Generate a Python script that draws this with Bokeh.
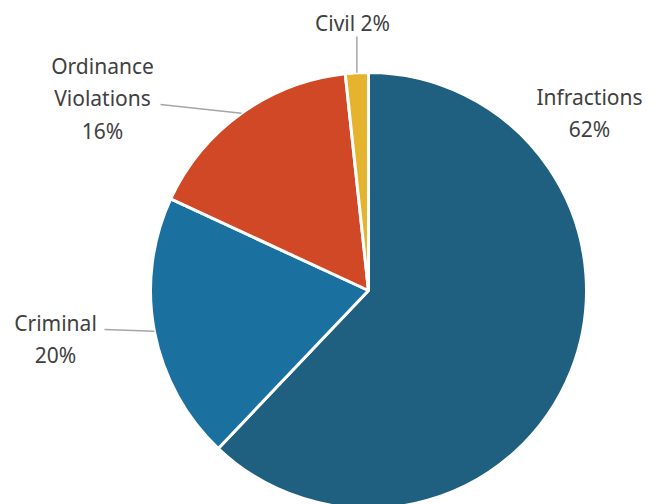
import math
from bokeh.plotting import figure
from bokeh.models import Range1d, ColumnDataSource
from bokeh.core.properties import value
from bokeh.embed import file_html
from bokeh.resources import INLINE

# Data
categories = ["Infractions", "Criminal", "Ordinance Violations", "Civil"]
shares = [62.1, 19.8, 16.4, 1.7]
colors = ["#1F5F80", "#1A71A0", "#D04826", "#E4B42F"]

W, H = 662, 504
p = figure(width=W, height=H, output_backend="svg", toolbar_location=None,
           x_range=Range1d(0, W), y_range=Range1d(0, H), min_border=0,
           outline_line_color=None, background_fill_color="white",
           border_fill_color="white")
p.axis.visible = False
p.grid.visible = False

cx, cy, r = 368, H - 290, 218
total = sum(shares)
starts, ends, mids = [], [], []
cum = 0.0
for s in shares:
    a0 = math.pi / 2 - 2 * math.pi * cum / total
    cum += s
    a1 = math.pi / 2 - 2 * math.pi * cum / total
    starts.append(a1)
    ends.append(a0)
    mids.append((a0 + a1) / 2)

src = ColumnDataSource(dict(start=starts, end=ends, color=colors, cat=categories))
p.wedge(x=cx, y=cy, radius=r, start_angle="start", end_angle="end",
        direction="anticlock", fill_color="color", line_color="white",
        line_width=3, source=src)

def edge(i):
    return cx + r * math.cos(mids[i]), cy + r * math.sin(mids[i])

pct = [f"{round(s)}%" for s in shares]
FONT = value("Noto Sans")
TC = "#404040"
FS = "21px"

def fy(y):
    return H - y

def fx(x):
    return x

label_specs = [
    (["Infractions", pct[0]], 589, 96),
    (["Criminal", pct[1]], 55, 322),
    (["Ordinance", "Violations", pct[2]], 102, 65),
    ([f"Civil {pct[3]}"], 352, 22),
]
xs, ys, ts = [], [], []
for lines, lx, ly in label_specs:
    for k, t in enumerate(lines):
        xs.append(fx(lx))
        ys.append(fy(ly + 32.5 * k))
        ts.append(t)
p.text(x=xs, y=ys, text=ts, text_font=FONT, text_font_size=FS,
       text_color=TC, text_align="center", text_baseline="middle")

lc = "#A6A6A6"
ex, ey = edge(2)
p.line([fx(160), ex], [fy(104), ey], line_color=lc, line_width=1.5)
ex, ey = edge(1)
p.line([fx(104), ex], [fy(329), ey], line_color=lc, line_width=1.5)
ex, ey = edge(3)
p.line([ex, ex], [fy(36), ey], line_color=lc, line_width=1.5)

open("out.html", "w").write(file_html(p, INLINE))
